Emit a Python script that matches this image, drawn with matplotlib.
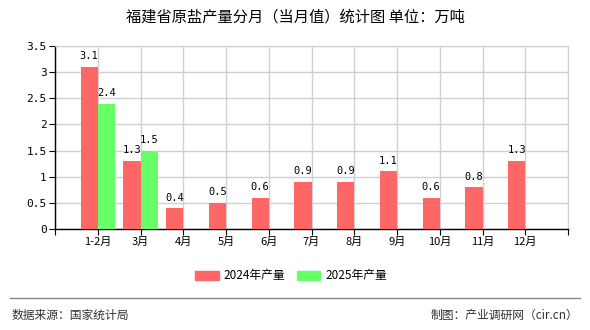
import matplotlib
matplotlib.use("Agg")
import matplotlib.pyplot as plt
from matplotlib.patches import Patch
from matplotlib.lines import Line2D

plt.rcParams['font.family'] = ['Noto Sans CJK SC', 'DejaVu Sans']

categories = ["1-2月", "3月", "4月", "5月", "6月", "7月", "8月", "9月", "10月", "11月", "12月"]
values_2024 = [3.1, 1.3, 0.4, 0.5, 0.6, 0.9, 0.9, 1.1, 0.6, 0.8, 1.3]
values_2025 = [2.4, 1.5]
series_names = ["2024年产量", "2025年产量"]
title = "福建省原盐产量分月（当月值）统计图 单位：万吨"
yticks = [0, 0.5, 1, 1.5, 2, 2.5, 3, 3.5]
ytick_labels = ["0", "0.5", "1", "1.5", "2", "2.5", "3", "3.5"]

red = "#ff6666"
green = "#66ff66"

fig = plt.figure(figsize=(5.9, 3.3), dpi=100)
ax = fig.add_axes([55/590, 1-229/330, 513/590, 183/330])

pos = list(range(1, len(categories)+1))
w = 0.4
ax.bar([p - w/2 for p in pos], values_2024, width=w, color=red, zorder=3)
ax.bar([p + w/2 for p in pos[:len(values_2025)]], values_2025, width=w, color=green, zorder=3)

for p, v in zip(pos, values_2024):
    ax.annotate(f"{v}", (p - w/2, v), xytext=(0, 4), textcoords="offset points",
                ha="center", va="bottom", fontsize=7.5, family="DejaVu Sans Mono")
for p, v in zip(pos, values_2025):
    ax.annotate(f"{v}", (p + w/2, v), xytext=(0, 4), textcoords="offset points",
                ha="center", va="bottom", fontsize=7.5, family="DejaVu Sans Mono")

ax.set_xlim(0, len(categories)+1)
ax.set_ylim(0, 3.5)
ax.set_xticks(range(0, len(categories)+2))
ax.set_xticklabels([""] + categories + [""], fontsize=8)
ax.set_yticks(yticks)
ax.set_yticklabels(ytick_labels, fontsize=8, family="DejaVu Sans Mono")
ax.grid(True, color="#d0d0d0", linewidth=1, zorder=0)
ax.set_axisbelow(True)
for s in ["top", "right"]:
    ax.spines[s].set_color("#d0d0d0")
for s in ["left", "bottom"]:
    ax.spines[s].set_color("black")
    ax.spines[s].set_linewidth(1)
ax.tick_params(axis="both", length=4, color="black", pad=2)

fig.text(0.5, 1-17/330, title, ha="center", va="center", fontsize=11)

handles = [Patch(color=red), Patch(color=green)]
fig.legend(handles, series_names, loc="center", bbox_to_anchor=(0.493, 1-276/330),
           ncol=2, frameon=False, fontsize=8.5, handlelength=2.0, handleheight=0.9,
           columnspacing=1.0, handletextpad=0.4)

fig.add_artist(Line2D([10/590, 580/590], [1-298/330, 1-298/330], color="#888888", linewidth=1))
fig.text(12/590, 1-315/330, "数据来源：国家统计局", ha="left", va="center", fontsize=8.5, color="#333333")
fig.text(578/590, 1-315/330, "制图：产业调研网（cir.cn）", ha="right", va="center", fontsize=8.5, color="#333333")

fig.savefig("out.png", dpi=100)
